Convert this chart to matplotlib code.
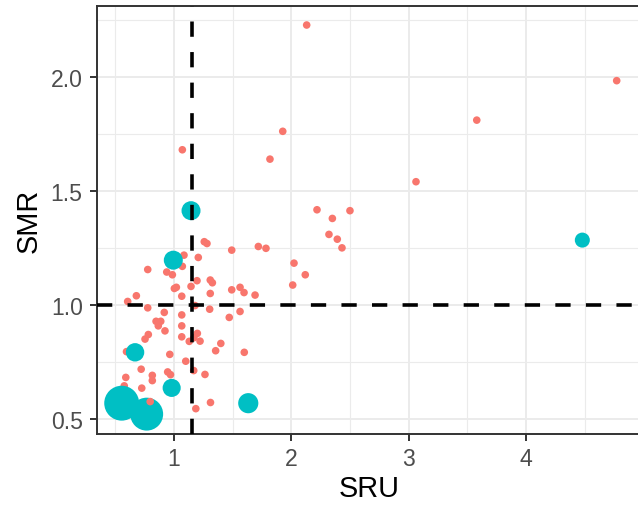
import numpy as np
import matplotlib
matplotlib.use("Agg")
import matplotlib.pyplot as plt

# data
red_x = [2.131, 4.774, 3.581, 1.927, 1.071, 1.818, 3.063, 2.219, 2.500, 2.350,
         2.321, 2.392, 2.432, 2.023, 2.119, 2.012, 1.258, 1.281, 1.492, 1.719,
         1.784, 1.085, 1.207, 1.071, 0.776, 0.938, 0.986, 1.196, 1.309, 1.327,
         1.020, 1.003, 1.145, 1.492, 1.563, 1.597, 1.309, 1.691, 1.066, 0.679,
         0.605, 0.776, 1.179, 1.304, 0.917, 1.563, 1.066, 1.471, 0.847, 0.887,
         0.866, 0.923, 1.066, 1.199, 1.170, 1.222, 0.781, 0.753, 1.066, 1.130,
         1.399, 1.355, 1.599, 0.964, 0.595, 1.100, 0.720, 0.946, 1.168, 1.264,
         0.589, 0.815, 0.815, 0.970, 0.725, 0.576, 1.311, 1.186]
red_y = [2.228, 1.984, 1.811, 1.762, 1.681, 1.640, 1.541, 1.418, 1.414, 1.380,
         1.310, 1.289, 1.251, 1.184, 1.133, 1.088, 1.278, 1.270, 1.241, 1.257,
         1.249, 1.219, 1.209, 1.170, 1.156, 1.145, 1.133, 1.107, 1.110, 1.098,
         1.078, 1.073, 1.082, 1.067, 1.078, 1.055, 1.051, 1.044, 1.039, 1.041,
         1.016, 0.988, 0.998, 0.982, 0.968, 0.972, 0.957, 0.946, 0.929, 0.929,
         0.909, 0.887, 0.909, 0.876, 0.857, 0.842, 0.871, 0.851, 0.861, 0.841,
         0.832, 0.800, 0.793, 0.784, 0.796, 0.754, 0.719, 0.707, 0.713, 0.696,
         0.683, 0.692, 0.669, 0.695, 0.636, 0.646, 0.573, 0.546]

# red point that sits on top of the big cyan one
red_front_x = [0.797]
red_front_y = [0.577]

cyan_x = [1.145, 0.994, 0.668, 0.980, 1.633, 0.554, 0.767, 4.481]
cyan_y = [1.414, 1.197, 0.793, 0.637, 0.570, 0.570, 0.522, 1.285]
cyan_n = [1.6, 1.6, 1.5, 1.45, 1.8, 5.4, 4.8, 1.0]

sru_ref = 1.15
smr_ref = 1.0

x_ticks = [1, 2, 3, 4]
y_ticks = [0.5, 1.0, 1.5, 2.0]
y_labels = ["0.5", "1.0", "1.5", "2.0"]

plt.rcParams['font.family'] = ['Liberation Sans', 'DejaVu Sans']
plt.rcParams['lines.scale_dashes'] = False

fig = plt.figure(figsize=(6.38, 5.10), dpi=100)
ax = fig.add_axes([0.1514, 0.148, 0.854, 0.839])

red = '#F8766D'
cyan = '#00BFC4'

ax.scatter(red_x, red_y, s=30, color=red, edgecolors='none', zorder=3)
ax.scatter(cyan_x, cyan_y, s=np.array(cyan_n) * 117, color=cyan,
           edgecolors='none', zorder=4)
ax.scatter(red_front_x, red_front_y, s=30, color=red, edgecolors='none', zorder=5)

ax.axvline(sru_ref, color='black', lw=2.6, dashes=(11, 11), zorder=6)
ax.axhline(smr_ref, color='black', lw=2.6, dashes=(11, 11), zorder=6)

ax.set_xlim(0.34, 4.985)
ax.set_ylim(0.437, 2.313)

ax.set_xticks(x_ticks)
ax.set_yticks(y_ticks)
ax.set_yticklabels(y_labels)
ax.set_xticks([0.5, 1.5, 2.5, 3.5, 4.5], minor=True)
ax.set_yticks([0.75, 1.25, 1.75, 2.25], minor=True)

ax.grid(True, which='major', color='#EBEBEB', lw=1.4, zorder=0)
ax.grid(True, which='minor', color='#EBEBEB', lw=0.8, zorder=0)
ax.set_axisbelow(True)

ax.tick_params(which='major', length=5, width=1.4, color='#333333',
               labelsize=16.6, labelcolor='#4D4D4D', pad=5)
ax.tick_params(which='minor', length=0)

for sp in ax.spines.values():
    sp.set_color('#333333')
    sp.set_linewidth(1.4)

ax.set_xlabel('SRU', fontsize=20.8, color='black')
ax.set_ylabel('SMR', fontsize=20.8, color='black')
ax.xaxis.set_label_coords(0.5, -0.094)
ax.yaxis.set_label_coords(-0.099, 0.5)

fig.savefig('out.png', dpi=100)
